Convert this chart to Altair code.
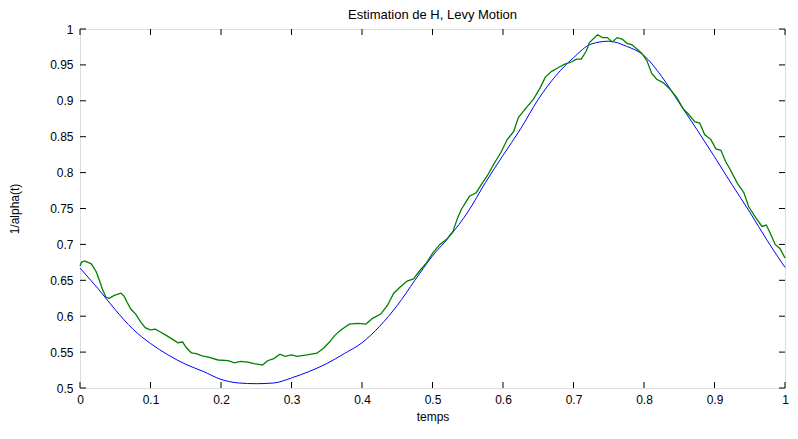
import altair as alt
import pandas as pd

# ---- data ----
blue_t = [0.000, 0.025, 0.050, 0.075, 0.100, 0.125, 0.150, 0.175, 0.200, 0.225,
          0.250, 0.275, 0.300, 0.325, 0.350, 0.375, 0.400, 0.425, 0.450, 0.475,
          0.500, 0.525, 0.550, 0.575, 0.600, 0.625, 0.650, 0.675, 0.700, 0.725,
          0.750, 0.775, 0.800, 0.825, 0.850, 0.875, 0.900, 0.925, 0.950, 0.975, 1.000]
blue_v = [0.667, 0.639, 0.609, 0.582, 0.562, 0.546, 0.533, 0.523, 0.512, 0.507,
          0.506, 0.507, 0.514, 0.523, 0.534, 0.548, 0.563, 0.586, 0.615, 0.650,
          0.684, 0.712, 0.745, 0.786, 0.824, 0.861, 0.902, 0.935, 0.960, 0.979,
          0.983, 0.976, 0.963, 0.934, 0.897, 0.860, 0.822, 0.783, 0.745, 0.705, 0.668]

green_t = [0.000, 0.002, 0.0065, 0.016, 0.023, 0.0275, 0.032, 0.037, 0.0415, 0.0485,
           0.058, 0.0625, 0.067, 0.072, 0.079, 0.086, 0.0925, 0.0995, 0.107, 0.114,
           0.123, 0.1325, 0.139, 0.1455, 0.151, 0.158, 0.165, 0.172, 0.182, 0.196,
           0.210, 0.219, 0.228, 0.238, 0.247, 0.259, 0.266, 0.275, 0.2835, 0.291,
           0.300, 0.308, 0.322, 0.336, 0.345, 0.354, 0.361, 0.3706, 0.382, 0.394,
           0.4056, 0.415, 0.4266, 0.436, 0.445, 0.4545, 0.464, 0.473, 0.4825, 0.492,
           0.501, 0.5105, 0.520, 0.529, 0.536, 0.541, 0.5524, 0.562, 0.569, 0.578,
           0.587, 0.597, 0.606, 0.615, 0.622, 0.632, 0.643, 0.6527, 0.660, 0.669,
           0.678, 0.6877, 0.697, 0.704, 0.711, 0.718, 0.7226, 0.734, 0.741, 0.748,
           0.755, 0.762, 0.769, 0.776, 0.783, 0.790, 0.797, 0.804, 0.811, 0.818,
           0.8275, 0.837, 0.846, 0.8555, 0.8625, 0.872, 0.879, 0.886, 0.895, 0.902,
           0.909, 0.916, 0.923, 0.9325, 0.9417, 0.9487, 0.958, 0.9674, 0.9734, 0.979,
           0.986, 0.993, 1.000]
green_v = [0.670, 0.675, 0.677, 0.673, 0.662, 0.650, 0.637, 0.626, 0.625, 0.629,
           0.632, 0.628, 0.619, 0.610, 0.603, 0.592, 0.584, 0.581, 0.582, 0.578,
           0.573, 0.567, 0.563, 0.564, 0.556, 0.549, 0.548, 0.545, 0.543, 0.539,
           0.538, 0.535, 0.537, 0.536, 0.534, 0.532, 0.538, 0.541, 0.547, 0.544,
           0.546, 0.544, 0.546, 0.5485, 0.555, 0.564, 0.573, 0.581, 0.589, 0.590,
           0.589, 0.597, 0.603, 0.615, 0.632, 0.641, 0.649, 0.652, 0.664, 0.675,
           0.689, 0.700, 0.707, 0.718, 0.738, 0.749, 0.767, 0.772, 0.783, 0.796,
           0.812, 0.828, 0.846, 0.857, 0.877, 0.889, 0.902, 0.918, 0.933, 0.941,
           0.946, 0.951, 0.954, 0.958, 0.958, 0.969, 0.981, 0.992, 0.988, 0.988,
           0.982, 0.988, 0.986, 0.980, 0.978, 0.972, 0.966, 0.956, 0.938, 0.930,
           0.925, 0.916, 0.905, 0.889, 0.882, 0.871, 0.869, 0.853, 0.846, 0.833,
           0.831, 0.815, 0.803, 0.785, 0.772, 0.752, 0.738, 0.725, 0.727, 0.716,
           0.700, 0.694, 0.681]

x_ticks = [0, 0.1, 0.2, 0.3, 0.4, 0.5, 0.6, 0.7, 0.8, 0.9, 1]
y_ticks = [0.5, 0.55, 0.6, 0.65, 0.7, 0.75, 0.8, 0.85, 0.9, 0.95, 1]

W, H = 705, 359
FONT = "Liberation Sans"
TICK = 6

blue_df = pd.DataFrame({"t": blue_t, "v": blue_v})
green_df = pd.DataFrame({"t": green_t, "v": green_v})
xt_df = pd.DataFrame({"t": x_ticks})
yt_df = pd.DataFrame({"v": y_ticks})

xscale = alt.Scale(domain=[0, 1], nice=False, zero=False)
yscale = alt.Scale(domain=[0.5, 1], nice=False, zero=False)

x_axis = alt.Axis(values=x_ticks, format="~g", title="temps", grid=False,
                  ticks=False, tickSize=0, domain=False, labelFlush=False,
                  labelPadding=6, labelFontSize=12, labelFont=FONT, labelColor="black",
                  titleFont=FONT, titleFontSize=12, titleFontWeight="normal",
                  titleColor="black", titleX=W / 2, titleY=32,
                  titleBaseline="alphabetic", titleAlign="center")
y_axis = alt.Axis(values=y_ticks, format="~g", title="1/alpha(t)", grid=False,
                  ticks=False, tickSize=0, domain=False, labelFlush=False,
                  labelPadding=7, labelFontSize=12, labelFont=FONT, labelColor="black",
                  titleFont=FONT, titleFontSize=12, titleFontWeight="normal",
                  titleColor="black", titleX=-66, titleY=H / 2, titleAngle=270,
                  titleAlign="center", titleBaseline="middle")

X = alt.X("t:Q", scale=xscale, axis=x_axis)
Y = alt.Y("v:Q", scale=yscale, axis=y_axis)

blue = alt.Chart(blue_df).mark_line(color="#0000ff", strokeWidth=1, interpolate="monotone").encode(
    x=X, y=Y)
green = alt.Chart(green_df).mark_line(color="#008000", strokeWidth=1.3).encode(
    x=X, y=Y)

tick_style = dict(color="black", strokeWidth=1)
bottom_ticks = alt.Chart(xt_df).mark_rule(**tick_style).encode(
    x=X, y=alt.value(H), y2=alt.value(H - TICK))
top_ticks = alt.Chart(xt_df).mark_rule(**tick_style).encode(
    x=X, y=alt.value(0), y2=alt.value(TICK))
left_ticks = alt.Chart(yt_df).mark_rule(**tick_style).encode(
    y=Y, x=alt.value(0), x2=alt.value(TICK))
right_ticks = alt.Chart(yt_df).mark_rule(**tick_style).encode(
    y=Y, x=alt.value(W), x2=alt.value(W - TICK))

chart = alt.layer(blue, green, bottom_ticks, top_ticks, left_ticks, right_ticks).properties(
    width=W, height=H,
    title=alt.TitleParams("Estimation de H, Levy Motion", font=FONT, fontSize=13,
                          fontWeight="normal", color="black", offset=1, anchor="middle"),
    autosize=alt.AutoSizeParams(type="none"),
    padding={"left": 72, "top": 21, "right": 4, "bottom": 36},
).configure_view(stroke="black", strokeWidth=1.2).configure(background="white")

chart.save("out.html", embed_options={"renderer": "svg", "actions": False})
